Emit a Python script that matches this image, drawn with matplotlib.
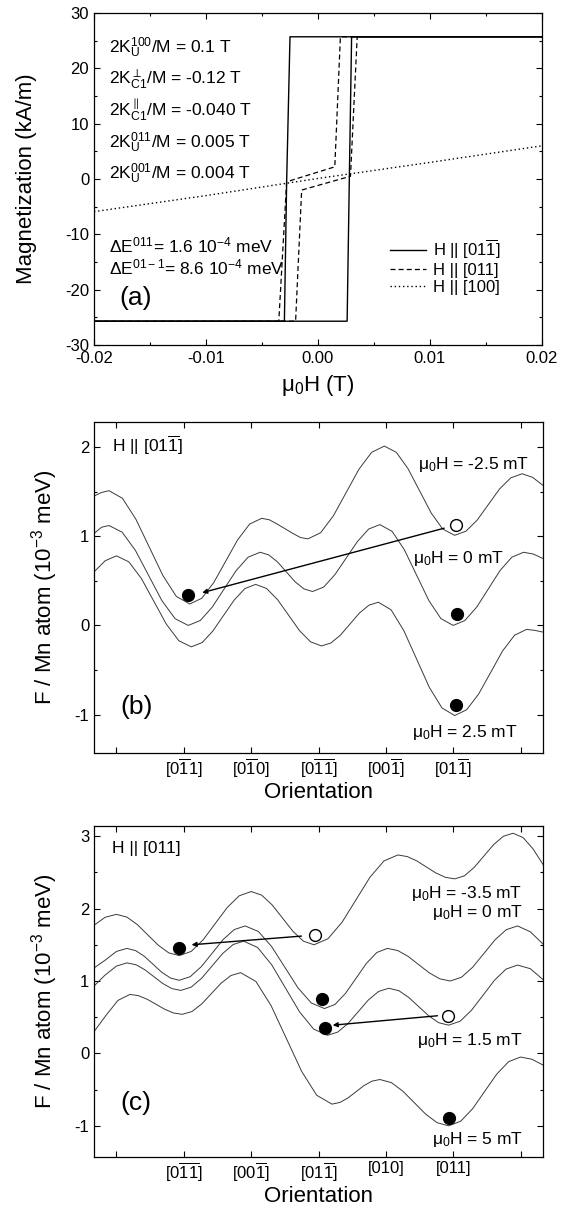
import matplotlib
matplotlib.use("Agg")
import matplotlib.pyplot as plt
from matplotlib.ticker import MultipleLocator

plt.rcParams['font.family'] = ['Liberation Sans', 'DejaVu Sans']
plt.rcParams['mathtext.fontset'] = 'custom'
plt.rcParams['mathtext.rm'] = 'Liberation Sans'
plt.rcParams['mathtext.it'] = 'Liberation Sans:italic'
plt.rcParams['mathtext.bf'] = 'Liberation Sans:bold'
plt.rcParams['axes.unicode_minus'] = False

# ---- panel (a): hysteresis loops ----
a_h_solid_down = [0.02, -0.0025, -0.0028, -0.0030, -0.02]
a_m_solid_down = [25.7, 25.7, -0.5, -25.7, -25.7]
a_h_solid_up = [-0.02, 0.0026, 0.0028, 0.0030, 0.02]
a_m_solid_up = [-25.7, -25.7, 0.4, 25.7, 25.7]
a_h_dash_down = [0.02, 0.0020, 0.0015, -0.0028, -0.0035, -0.02]
a_m_dash_down = [25.7, 25.7, 2.2, -0.5, -25.7, -25.7]
a_h_dash_up = [-0.02, -0.0020, -0.00146, 0.0029, 0.0035, 0.02]
a_m_dash_up = [-25.7, -25.7, -2.0, 0.5, 25.7, 25.7]
a_h_dot = [-0.02, -0.01, 0.0, 0.01, 0.02]
a_m_dot = [-5.9, -3.0, 0.1, 3.0, 6.0]

# ---- panel (b): H || [01-1] ----
b_x_m25 = [-15, -10, -5, 4, 13, 22, 31, 40, 49, 57, 65, 73, 81, 89, 97, 102, 107, 112.5, 118, 123,
           128, 136.5, 145, 153.5, 162, 170.5, 179, 187, 194.7, 202.5, 210.3, 218, 226, 233.5, 241,
           248.5, 256, 263.5, 271, 278, 285]
b_f_m25 = [1.45, 1.49, 1.51, 1.425, 1.19, 0.875, 0.56, 0.325, 0.24, 0.304, 0.48, 0.72, 0.96, 1.136,
           1.20, 1.185, 1.14, 1.085, 1.03, 0.985, 0.97, 1.04, 1.23, 1.49, 1.75, 1.94, 2.01, 1.94, 1.76,
           1.51, 1.26, 1.08, 1.01, 1.056, 1.18, 1.355, 1.53, 1.654, 1.70, 1.66, 1.57]
b_x_0 = [-15, -10, -5, 3.8, 12.7, 21.5, 30.3, 39.2, 48, 56, 64, 72, 80, 88, 96, 101.8, 107.7, 113.5,
         119.3, 125.2, 131, 138.5, 146, 153.5, 161, 168.5, 176, 184.2, 192.3, 200.5, 208.7, 216.8, 225,
         232.8, 240.7, 248.5, 256.3, 264.2, 272, 278.5, 285]
b_f_0 = [1.03, 1.10, 1.12, 1.045, 0.84, 0.56, 0.28, 0.075, 0.0, 0.055, 0.205, 0.41, 0.615, 0.765, 0.82,
         0.79, 0.71, 0.60, 0.49, 0.41, 0.38, 0.43, 0.57, 0.755, 0.94, 1.08, 1.13, 1.054, 0.85, 0.565,
         0.28, 0.076, 0.0, 0.055, 0.205, 0.41, 0.615, 0.765, 0.82, 0.80, 0.75]
b_x_p25 = [-15, -7.5, 0, 8.3, 16.7, 25, 33.3, 41.7, 50, 57.2, 64.3, 71.5, 78.7, 85.8, 93, 100.3, 107.7,
           115, 122.3, 129.7, 137, 143.3, 149.7, 156, 162.3, 168.7, 175, 183.5, 192, 200.5, 209, 217.5,
           226, 234, 242, 250, 258, 266, 274, 279.5, 285]
b_f_p25 = [0.60, 0.725, 0.78, 0.712, 0.525, 0.27, 0.015, -0.172, -0.24, -0.193, -0.065, 0.11, 0.285,
           0.413, 0.46, 0.414, 0.288, 0.115, -0.058, -0.184, -0.23, -0.197, -0.108, 0.015, 0.138, 0.227,
           0.26, 0.175, -0.058, -0.375, -0.693, -0.925, -1.01, -0.945, -0.769, -0.528, -0.286, -0.11,
           -0.045, -0.055, -0.075]
b_open_x = [226.7]
b_open_f = [1.12]
b_full_x = [47.8, 227.4, 226.7]
b_full_f = [0.337, 0.124, -0.89]
b_arrow_from = [(219, 1.09)]
b_arrow_to = [(57.3, 0.367)]
b_ticklabels = ['', r'[0$\overline{1}$1]', r'[0$\overline{1}$0]', r'[0$\overline{1}\overline{1}$]',
                r'[00$\overline{1}$]', r'[01$\overline{1}$]', '']

# ---- panel (c): H || [011] ----
c_x_m35 = [-15, -7.5, 0, 7, 14, 21, 28, 35, 42, 50, 58, 66, 74, 82, 90, 97, 104, 111, 118, 125, 132,
           141.3, 150.7, 160, 169.3, 178.7, 188, 194.3, 200.7, 207, 213.3, 219.7, 226, 232.5, 239,
           245.5, 252, 258.5, 265, 271.7, 278.3, 285]
c_f_m35 = [1.77, 1.88, 1.92, 1.882, 1.778, 1.635, 1.493, 1.388, 1.35, 1.409, 1.571, 1.793, 2.014, 2.176,
           2.235, 2.186, 2.051, 1.868, 1.684, 1.549, 1.50, 1.583, 1.81, 2.12, 2.43, 2.657, 2.74, 2.718,
           2.658, 2.575, 2.493, 2.432, 2.41, 2.452, 2.568, 2.725, 2.883, 2.998, 3.04, 2.98, 2.825, 2.61]
c_x_0 = [-15, -7.7, 0, 7, 12.8, 18.7, 24.5, 30.3, 36.2, 42, 49.3, 56.7, 64, 71.3, 78.7, 86, 94.8, 103.7,
         112.5, 121.3, 130.2, 139, 146, 153, 160, 167, 174, 181, 188, 195, 202, 209, 216, 223, 230.5,
         238, 245.5, 253, 260.5, 268, 276.5, 285]
c_f_0 = [1.18, 1.285, 1.408, 1.45, 1.42, 1.34, 1.23, 1.12, 1.04, 1.01, 1.06, 1.198, 1.385, 1.573, 1.71,
         1.76, 1.684, 1.475, 1.19, 0.905, 0.696, 0.62, 0.676, 0.828, 1.035, 1.243, 1.394, 1.45, 1.42,
         1.338, 1.225, 1.113, 1.03, 1.00, 1.051, 1.19, 1.38, 1.57, 1.709, 1.76, 1.68, 1.51]
c_x_15 = [-15, -7.7, 0, 7, 13, 19, 25, 31, 37, 43, 50, 57, 64, 71, 78, 85, 94.3, 103.7, 113, 122.3,
          131.7, 141, 147.8, 154.7, 161.5, 168.3, 175.2, 182, 188.7, 195.3, 202, 208.7, 215.3, 222,
          229.7, 237.3, 245, 252.7, 260.3, 268, 276.5, 285]
c_f_15 = [0.93, 1.08, 1.206, 1.25, 1.225, 1.155, 1.06, 0.965, 0.895, 0.87, 0.916, 1.04, 1.21, 1.38,
          1.504, 1.55, 1.463, 1.225, 0.90, 0.575, 0.337, 0.25, 0.294, 0.413, 0.575, 0.738, 0.856, 0.90,
          0.866, 0.773, 0.645, 0.518, 0.424, 0.39, 0.446, 0.598, 0.805, 1.013, 1.164, 1.22, 1.17, 1.02]
c_x_5 = [-15, -7, 1, 9, 14.8, 20.7, 26.5, 32.3, 38.2, 44, 50.5, 57, 63.5, 70, 76.5, 83, 93.2, 103.3,
         113.5, 123.7, 133.8, 144, 149.3, 154.7, 160, 165.3, 170.7, 176, 183.7, 191.3, 199, 206.7,
         214.3, 222, 230, 238, 246, 254, 262, 270, 277.5, 285]
c_f_5 = [0.30, 0.525, 0.732, 0.815, 0.797, 0.746, 0.678, 0.609, 0.558, 0.54, 0.579, 0.684, 0.828,
         0.971, 1.076, 1.115, 0.993, 0.661, 0.208, -0.246, -0.578, -0.70, -0.677, -0.615, -0.53, -0.445,
         -0.383, -0.36, -0.403, -0.52, -0.68, -0.84, -0.957, -1.00, -0.936, -0.763, -0.525, -0.288,
         -0.114, -0.05, -0.08, -0.16]
c_open_x = [132.5, 221.7]
c_open_f = [1.64, 0.516]
c_full_x = [41.8, 137.3, 139.6, 222.3]
c_full_f = [1.45, 0.75, 0.35, -0.89]
c_arrow_from = [(123.6, 1.62), (214.5, 0.52)]
c_arrow_to = [(50.2, 1.50), (144.5, 0.39)]
c_ticklabels = ['', r'[0$\overline{1}\overline{1}$]', r'[00$\overline{1}$]', r'[01$\overline{1}$]',
                '[010]', '[011]', '']

orient_ticks = [0, 45, 90, 135, 180, 225, 270]

W, H = 574, 1211
fig = plt.figure(figsize=(W / 100, H / 100), dpi=100)


def rect(l, t, r, b):
    return [l / W, 1 - b / H, (r - l) / W, (b - t) / H]


def style(ax):
    ax.tick_params(which='both', direction='in', top=True, right=True, labelsize=12, width=0.8)
    ax.tick_params(which='major', length=4)
    ax.tick_params(which='minor', length=2.5)
    for s in ax.spines.values():
        s.set_linewidth(0.9)


# (a)
ax = fig.add_axes(rect(94, 13, 542, 345))
ax.plot(a_h_dot, a_m_dot, color='k', lw=1.0, ls=(0, (1, 2)), label='H || [100]')
ax.plot(a_h_dash_down, a_m_dash_down, color='k', lw=0.9, ls=(0, (4, 2.5)))
ax.plot(a_h_dash_up, a_m_dash_up, color='k', lw=0.9, ls=(0, (4, 2.5)), label='H || [011]')
ax.plot(a_h_solid_down, a_m_solid_down, color='k', lw=1.0)
ax.plot(a_h_solid_up, a_m_solid_up, color='k', lw=1.0, label=r'H || [01$\overline{1}$]')
ax.set_xlim(-0.02, 0.02)
ax.set_ylim(-30, 30)
ax.xaxis.set_minor_locator(MultipleLocator(0.005))
ax.yaxis.set_major_locator(MultipleLocator(10))
ax.yaxis.set_minor_locator(MultipleLocator(5))
ax.set_xticks([-0.02, -0.01, 0, 0.01, 0.02])
ax.set_xticklabels(['-0.02', '-0.01', '0.00', '0.01', '0.02'])
style(ax)
ax.tick_params(axis='x', pad=4)
ax.set_xlabel(r'μ$_0$H (T)', fontsize=16, labelpad=5)
ax.set_ylabel('Magnetization (kA/m)', fontsize=16, labelpad=20)
h, l = ax.get_legend_handles_labels()
ax.legend(h[::-1], l[::-1], loc='lower left', bbox_to_anchor=(0.66, 0.152), frameon=False,
          fontsize=12, handlelength=2.2, handletextpad=0.4, labelspacing=0.12, borderpad=0,
          borderaxespad=0)
a_text = [r'2K$_{\rm U}^{100}$/M = 0.1 T', r'2K$_{\rm C1}^{\perp}$/M = -0.12 T',
          r'2K$_{\rm C1}^{\parallel}$/M = -0.040 T', r'2K$_{\rm U}^{011}$/M = 0.005 T',
          r'2K$_{\rm U}^{001}$/M = 0.004 T']
for i, t in enumerate(a_text):
    ax.text(-0.0187, 22.8 - 5.7 * i, t, fontsize=12.5, va='baseline')
ax.text(-0.0187, -13.3, r'ΔE$^{011}$= 1.6 10$^{-4}$ meV', fontsize=12.5, va='baseline')
ax.text(-0.0187, -17.2, r'ΔE$^{01-1}$= 8.6 10$^{-4}$ meV', fontsize=12.5, va='baseline')
ax.text(-0.0177, -22.8, '(a)', fontsize=19, va='baseline')


def energy_panel(ax, curves, open_x, open_f, full_x, full_f, arr_from, arr_to, ticklabels, ylim):
    for x, f in curves:
        ax.plot(x, f, color='#3a3a3a', lw=0.7)
    for p, q in zip(arr_from, arr_to):
        ax.annotate('', xy=q, xytext=p,
                    arrowprops=dict(arrowstyle='-|>', color='k', lw=1.0, mutation_scale=7,
                                    shrinkA=0, shrinkB=0))
    ax.plot(open_x, open_f, 'o', ms=8.5, mfc='white', mec='k', mew=1.0)
    ax.plot(full_x, full_f, 'o', ms=8.5, color='k')
    ax.set_xlim(-15, 285)
    ax.set_ylim(*ylim)
    ax.set_xticks(orient_ticks)
    ax.set_xticklabels(ticklabels)
    ax.yaxis.set_major_locator(MultipleLocator(1))
    ax.yaxis.set_minor_locator(MultipleLocator(0.5))
    style(ax)
    ax.tick_params(axis='x', pad=3)
    ax.set_xlabel('Orientation', fontsize=16, labelpad=1)
    ax.set_ylabel(r'F / Mn atom (10$^{-3}$ meV)', fontsize=16, labelpad=10)


# (b)
ax = fig.add_axes(rect(94, 422, 543, 753))
energy_panel(ax, [(b_x_m25, b_f_m25), (b_x_0, b_f_0), (b_x_p25, b_f_p25)],
             b_open_x, b_open_f, b_full_x, b_full_f, b_arrow_from, b_arrow_to, b_ticklabels,
             (-1.43, 2.28))
ax.text(-3.1, 1.94, r'H || [01$\overline{1}$]', fontsize=12.5, va='baseline')
ax.text(275.8, 1.75, r'μ$_0$H = -2.5 mT', fontsize=12.5, ha='right', va='baseline')
ax.text(259, 0.70, r'μ$_0$H = 0 mT', fontsize=12.5, ha='right', va='baseline')
ax.text(268, -1.25, r'μ$_0$H = 2.5 mT', fontsize=12.5, ha='right', va='baseline')
ax.text(2.5, -0.99, '(b)', fontsize=19, va='baseline')

# (c)
ax = fig.add_axes(rect(94, 826, 543, 1157))
energy_panel(ax, [(c_x_m35, c_f_m35), (c_x_0, c_f_0), (c_x_15, c_f_15), (c_x_5, c_f_5)],
             c_open_x, c_open_f, c_full_x, c_full_f, c_arrow_from, c_arrow_to, c_ticklabels,
             (-1.43, 3.14))
ax.text(-3.1, 2.77, 'H || [011]', fontsize=12.5, va='baseline')
ax.text(271.3, 2.14, r'μ$_0$H = -3.5 mT', fontsize=12.5, ha='right', va='baseline')
ax.text(271.3, 1.88, r'μ$_0$H = 0 mT', fontsize=12.5, ha='right', va='baseline')
ax.text(271.3, 0.115, r'μ$_0$H = 1.5 mT', fontsize=12.5, ha='right', va='baseline')
ax.text(271.3, -1.255, r'μ$_0$H = 5 mT', fontsize=12.5, ha='right', va='baseline')
ax.text(2.5, -0.78, '(c)', fontsize=19, va='baseline')

fig.savefig('out.png', dpi=100)
